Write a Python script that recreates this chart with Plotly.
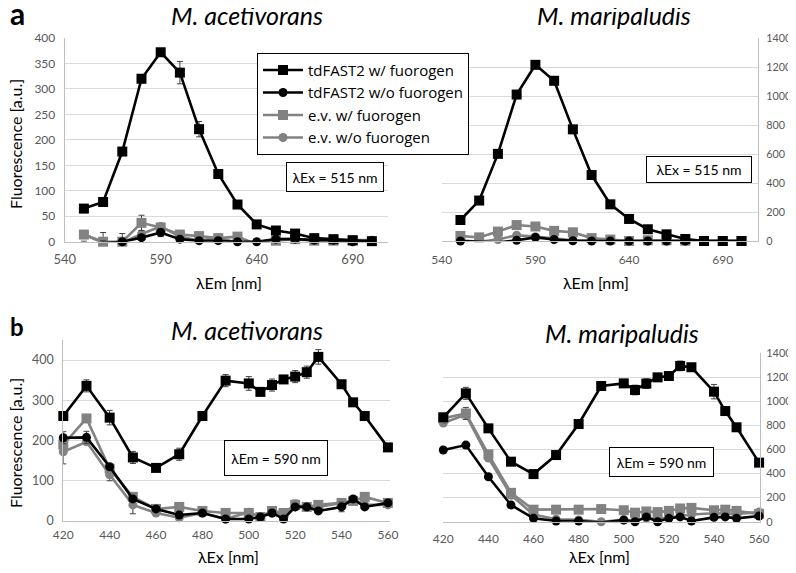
import plotly.graph_objects as go

# page body has an 8px default margin: work in reference pixels and shift
OFF = 8
W, H = 796 - OFF, 573 - 2 * OFF

# ---------------- data ----------------
names = ["tdFAST2 w/ fuorogen", "tdFAST2 w/o fuorogen", "e.v. w/ fuorogen", "e.v. w/o fuorogen"]

em_x = [550, 560, 570, 580, 590, 600, 610, 620, 630, 640, 650, 660, 670, 680, 690, 700]
# panel a, M. acetivorans
a1_td_w = [65, 78, 177, 320, 372, 332, 221, 133, 73, 34, 22, 16, 7, 5, 3, 1]
a1_td_w_err = [3, 3, 5, 8, 5, 22, 15, 5, 3, 2, 2, 2, 2, 2, 2, 2]
a1_td_wo = [-5, -2, 0, 8, 18, 5, 2, 2, 0, 0, 5, 5, 3, 3, 0, 2]
a1_td_wo_err = [6, 4, 3, 3, 8, 3, 2, 2, 2, 2, 2, 2, 2, 2, 2, 2]
a1_ev_w = [14, 0, 0, 37, 28, 14, 11, 7, 10, -5, 2, 5, 2, 2, 2, -2]
a1_ev_w_err = [3, 5, 5, 15, 5, 3, 3, 3, 3, 3, 2, 2, 2, 2, 2, 2]
a1_ev_wo = [14, -2, -2, 15, 30, 10, 2, 8, -2, -2, 5, 5, 3, 3, 3, 3]
a1_ev_wo_err = [3, 20, 18, 6, 5, 3, 8, 3, 3, 3, 2, 2, 2, 2, 2, 2]
# panel a, M. maripaludis
a2_td_w = [145, 279, 601, 1010, 1215, 1105, 770, 455, 253, 152, 81, 46, 14, 0, 0, 0]
a2_td_wo = [0, -5, -10, 5, 25, 10, 2, 0, 0, 0, 0, 0, 0, 0, 0, 0]
a2_ev_w = [35, 25, 65, 110, 100, 70, 60, 20, 10, 0, 5, 5, 2, 0, 0, 0]
a2_ev_wo = [5, -5, 10, 40, 30, 15, 5, 5, 2, 0, 0, 0, 0, 0, 0, 0]

ex_x = [420, 430, 440, 450, 460, 470, 480, 490, 500, 505, 510, 515, 520, 525, 530, 540, 545, 550, 560]
# panel b, M. acetivorans
b1_td_w = [261, 336, 257, 158, 132, 166, 261, 349, 342, 321, 338, 352, 359, 370, 408, 340, 295, 261, 183]
b1_td_w_err = [3, 15, 18, 15, 5, 15, 5, 15, 17, 8, 15, 8, 15, 15, 18, 5, 5, 3, 3]
b1_td_wo = [207, 208, 135, 55, 30, 15, 20, 5, 5, 10, 20, 5, 35, 35, 25, 35, 55, 35, 45]
b1_td_wo_err = [15, 15, 5, 5, 3, 3, 3, 3, 3, 3, 3, 5, 3, 3, 5, 12, 5, 3, 3]
b1_ev_w = [190, 255, 130, 60, 30, 35, 25, 20, 20, 10, 25, 20, 40, 35, 40, 45, 50, 60, 45]
b1_ev_w_err = [10, 8, 10, 5, 3, 3, 3, 3, 3, 3, 5, 5, 12, 3, 3, 5, 5, 3, 3]
b1_ev_wo = [172, 197, 115, 40, 20, 8, 20, 5, 22, 10, 20, 15, 35, 35, 35, 45, 50, 40, 40]
b1_ev_wo_err = [30, 5, 15, 22, 3, 3, 3, 3, 3, 3, 3, 3, 3, 3, 3, 3, 3, 3, 3]
# panel b, M. maripaludis
b2_td_w = [868, 1067, 776, 499, 396, 554, 812, 1128, 1150, 1095, 1148, 1200, 1211, 1295, 1284, 1081, 920, 785, 491]
b2_td_w_err = [20, 50, 15, 10, 25, 10, 10, 10, 15, 40, 40, 30, 10, 40, 15, 60, 10, 10, 10]
b2_td_wo = [596, 637, 374, 139, 28, 6, 6, -8, 14, 0, 40, 0, 28, 40, 6, 36, 40, 28, 47]
b2_ev_w = [860, 900, 560, 240, 100, 100, 100, 105, 95, 75, 85, 80, 90, 110, 115, 95, 100, 90, 65]
b2_ev_w_err = [40, 50, 20, 10, 5, 5, 5, 5, 5, 5, 5, 5, 5, 5, 5, 5, 5, 5, 5]
b2_ev_wo = [820, 890, 530, 220, 60, 20, 15, 0, 15, 10, 30, 25, 35, 50, 60, 70, 70, 65, 80]

em_ticks = [540, 590, 640, 690]
ex_ticks = [420, 440, 460, 480, 500, 520, 540, 560]

# ---------------- style ----------------
FONT = "Lato, 'Open Sans', sans-serif"
LEGFONT = "'Open Sans', Lato, sans-serif"
BLACK = "#000000"
GRAY = "#828282"
GRID = "#d9d9d9"
TICK = "#595959"
ERRC = "#404040"

styles = [
    dict(color=BLACK, symbol="square", size=10),
    dict(color=BLACK, symbol="circle", size=9),
    dict(color=GRAY, symbol="square", size=10),
    dict(color=GRAY, symbol="circle", size=9),
]

fig = go.Figure()

def px_dom_x(a, b):
    return [(a - OFF) / W, (b - OFF) / W]

def px_dom_y(top, bottom):
    return [1 - (bottom - OFF) / H, 1 - (top - OFF) / H]

panels = [
    dict(xa="x", ya="y", xs=em_x, series=[a1_td_w, a1_td_wo, a1_ev_w, a1_ev_wo],
         errs=[a1_td_w_err, a1_td_wo_err, a1_ev_w_err, a1_ev_wo_err],
         xd=px_dom_x(64.7, 388), yd=px_dom_y(38, 241.7), xr=[540, 708.4], yr=[0, 400],
         yt=[0, 50, 100, 150, 200, 250, 300, 350, 400], side="left", xt=em_ticks,
         xfs=13, yfs=12, xso=6, yso=6),
    dict(xa="x2", ya="y2", xs=em_x, series=[a2_td_w, a2_td_wo, a2_ev_w, a2_ev_wo],
         errs=[None, None, None, None],
         xd=px_dom_x(441.7, 758), yd=px_dom_y(38, 241), xr=[540, 708.8], yr=[0, 1400],
         yt=[0, 200, 400, 600, 800, 1000, 1200, 1400], side="right", xt=em_ticks,
         xfs=12, yfs=10.8, xso=8, yso=5),
    dict(xa="x3", ya="y3", xs=ex_x, series=[b1_td_w, b1_td_wo, b1_ev_w, b1_ev_wo],
         errs=[b1_td_w_err, b1_td_wo_err, b1_ev_w_err, b1_ev_wo_err],
         xd=px_dom_x(63.3, 390), yd=px_dom_y(340, 521), xr=[420, 560.9], yr=[0, 450],
         yt=[0, 100, 200, 300, 400], side="left", xt=ex_ticks,
         xfs=12, yfs=12.5, xso=3, yso=6),
    dict(xa="x4", ya="y4", xs=ex_x, series=[b2_td_w, b2_td_wo, b2_ev_w, b2_ev_wo],
         errs=[b2_td_w_err, None, b2_ev_w_err, None],
         xd=px_dom_x(443.3, 760), yd=px_dom_y(353.3, 521.7), xr=[420, 560.4], yr=[0, 1400],
         yt=[0, 200, 400, 600, 800, 1000, 1200, 1400], side="right", xt=ex_ticks,
         xfs=12, yfs=11, xso=6, yso=3),
]

layout_axes = {}
for pi, p in enumerate(panels):
    for si in [3, 2, 1, 0]:
        st = styles[si]
        tr = dict(
            x=p["xs"], y=p["series"][si], mode="lines+markers", name=names[si],
            xaxis=p["xa"], yaxis=p["ya"], legendrank=si + 1,
            line=dict(color=st["color"], width=2.6),
            marker=dict(color=st["color"], symbol=st["symbol"], size=st["size"]),
            showlegend=(pi == 0), cliponaxis=False,
        )
        if p["errs"][si] is not None:
            tr["error_y"] = dict(type="data", array=p["errs"][si], visible=True,
                                 color=ERRC, thickness=1, width=3)
        fig.add_trace(go.Scatter(**tr))
    xkey = "xaxis" + p["xa"][1:]
    ykey = "yaxis" + p["ya"][1:]
    layout_axes[xkey] = dict(
        domain=p["xd"], range=p["xr"], anchor=p["ya"], tickvals=p["xt"],
        showgrid=False, zeroline=False,
        showline=True, linecolor="#bfbfbf", linewidth=1, ticks="", automargin=False,
        ticklabelstandoff=p["xso"],
        tickfont=dict(family=FONT, size=p["xfs"], color=TICK),
    )
    layout_axes[ykey] = dict(
        domain=p["yd"], range=p["yr"], anchor=p["xa"], tickvals=p["yt"], side=p["side"],
        showgrid=True, gridcolor=GRID, gridwidth=1, zeroline=False, automargin=False,
        showline=True, linecolor="#bfbfbf", linewidth=1, ticks="",
        ticklabelstandoff=p["yso"],
        tickfont=dict(family=FONT, size=p["yfs"], color=TICK),
    )

fig.update_layout(**layout_axes)

def ann(text, x, y, size, bold=False, italic=False, angle=0, **kw):
    t = text
    if bold:
        t = "<b>" + t + "</b>"
    if italic:
        t = "<i>" + t + "</i>"
    d = dict(text=t, x=(x - OFF) / W, y=1 - (y - OFF) / H, xref="paper", yref="paper",
             showarrow=False, xanchor="center", yanchor="middle", textangle=angle,
             font=dict(family=FONT, size=size, color="#000000"))
    d.update(kw)
    return d

annotations = [
    ann("a", OFF, 13, 30, bold=True, xanchor="left"),
    ann("b", OFF, 326, 24, bold=True, xanchor="left"),
    ann("M. acetivorans", 247, 15, 25, italic=True),
    ann("M. maripaludis", 614, 15, 25, italic=True),
    ann("M. acetivorans", 247, 330, 25, italic=True),
    ann("M. maripaludis", 622, 333, 25, italic=True),
    ann("Fluorescence [a.u.]", 15, 144, 16, angle=-90),
    ann("Fluorescence [a.u.]", 15, 443, 16, angle=-90),
    ann("λEm [nm]", 229, 283, 16),
    ann("λEm [nm]", 596, 283, 16),
    ann("λEx [nm]", 229, 556, 16),
    ann("λEx [nm]", 599, 556, 16),
    ann("λEx = 515 nm", 335, 177.5, 14, bordercolor="#000000", borderwidth=1,
        bgcolor="#ffffff", width=94, height=26),
    ann("λEx = 515 nm", 699, 169.5, 14, bordercolor="#000000", borderwidth=1,
        bgcolor="#ffffff", width=102, height=23),
    ann("λEm = 590 nm", 276, 458, 14, bordercolor="#000000", borderwidth=1,
        bgcolor="#ffffff", width=100, height=32),
    ann("λEm = 590 nm", 661.5, 462, 14, bordercolor="#000000", borderwidth=1,
        bgcolor="#ffffff", width=101, height=26),
]

fig.update_layout(
    width=W, height=H,
    margin=dict(l=0, r=0, t=0, b=0, autoexpand=False),
    paper_bgcolor="#ffffff", plot_bgcolor="#ffffff",
    font=dict(family=FONT, color="#000000"),
    annotations=annotations,
    legend=dict(
        x=(257 - OFF) / W, y=1 - (52.7 - OFF) / H, xanchor="left", yanchor="top",
        bgcolor="#ffffff", bordercolor="#000000", borderwidth=1,
        font=dict(family=LEGFONT, size=15, color="#000000"),
        traceorder="normal", tracegroupgap=0, itemwidth=40,
    ),
)

fig.write_html("out.html")
